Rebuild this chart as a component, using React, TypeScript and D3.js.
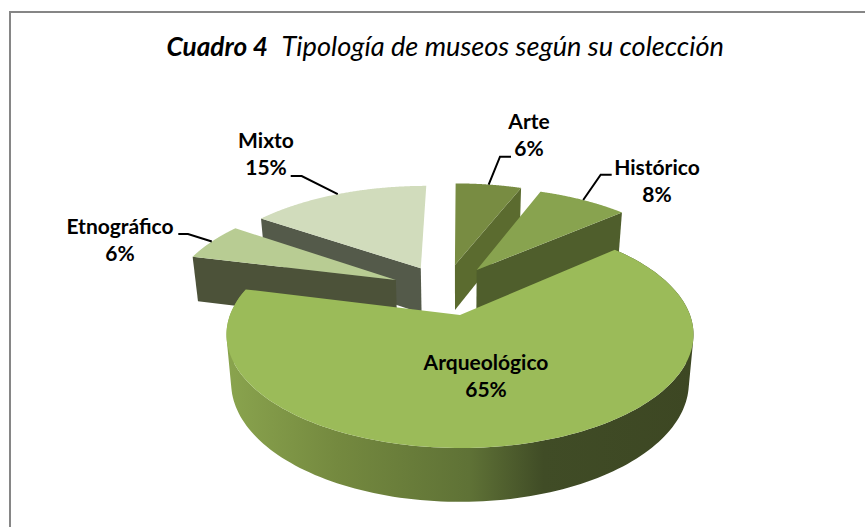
import React from "react";
import * as d3 from "d3";

const categories = ["Arte", "Histórico", "Arqueológico", "Etnográfico", "Mixto"];
const values = [5.7, 7.8, 65.4, 5.7, 15.4];
const percentLabels = ["6%", "8%", "65%", "6%", "15%"];
const topColors = ["#788c42", "#88a34f", "#9bbb59", "#b8cc93", "#d1dcbc"];
const wallColors = ["#5b6b2f", "#4f5e2c", "#4f5e2c", "#4c5239", "#545a4a"];
// plane offset of every exploded slice, in radii
const explodeU = [-0.024, 0.078, 0, -0.295, -0.184];
const explodeV = [0.493, 0.44, 0, 0.337, 0.458];
const radii = [1.015, 1.015, 1, 1.015, 1.015];
const drawOrder = [4, 0, 1, 3, 2];

const CX = 460, CY = 315, RX = 230, RY = 110, PERSP = 0.1729;
const pies = d3.pie<number>().sort(null).startAngle(0).endAngle(2 * Math.PI)(values);

type P = [number, number];
const top = (u: number, v: number): P => {
  const w = 1 + PERSP * v;
  return [CX + (RX * u) / w, CY - (RY * v) / w];
};
const bottom = (u: number, v: number): P => {
  const w = 1 + PERSP * v;
  const Y = v / w;
  return [CX + (0.98 * RX * u) / w, CY + 47.3 - (RY + 5.4) * Y];
};
const at = (i: number, a: number, r = radii[i]): [number, number] => [
  explodeU[i] + r * Math.sin(a),
  explodeV[i] + r * Math.cos(a),
];
const line = d3.line<P>().curve(d3.curveLinear);
const arcPts = (i: number, proj: (u: number, v: number) => P, a0: number, a1: number): P[] =>
  d3.range(0, 161).map((k) => {
    const [u, v] = at(i, a0 + ((a1 - a0) * k) / 160);
    return proj(u, v);
  });
const apex = (i: number, proj: (u: number, v: number) => P): P => proj(explodeU[i], explodeV[i]);

const labelX = [529, 657, 486, 120, 266];
const labelY = [129, 175, 370, 234, 148];
const elbows: P[] = [
  [500, 156.7],
  [600.7, 174.7],
  [0, 0],
  [188, 234],
  [301.7, 176],
];
const stubX = [511, 611.7, 0, 178.3, 290.7];

const ribbon = (t: P[], b: P[]): string =>
  t
    .slice(1)
    .map((pt, k) => {
      const quad: P[] = [t[k], pt, b[k + 1], b[k]];
      // every quad wound the same way, so the union has no cancelled holes
      const area = d3.polygonArea(quad);
      return line(area < 0 ? quad.slice().reverse() : quad)! + "Z";
    })
    .join("");

export default function App() {
  return (
    <svg
      width={865}
      height={527}
      style={{ position: "absolute", left: 0, top: 0, display: "block", background: "#fff" }}
      fontFamily="Lato, Carlito, sans-serif"
    >
      <defs>
        <linearGradient id="side" gradientUnits="userSpaceOnUse" x1={226} x2={693} y1={0} y2={0}>
          <stop offset="0" stopColor="#8aa44e" />
          <stop offset="0.24" stopColor="#74893f" />
          <stop offset="0.52" stopColor="#5f7236" />
          <stop offset="0.68" stopColor="#404c26" />
          <stop offset="1" stopColor="#3d4723" />
        </linearGradient>
      </defs>
      <path d="M10 527V12H865" fill="none" stroke="#868686" strokeWidth={2} />
      <text y={56} fontStyle="italic" fill="#000">
        <tspan x={166.5} fontSize={26.2} fontWeight={700}>Cuadro 4</tspan>
        <tspan x={281.5} fontSize={27.2}>Tipología de museos según su colección</tspan>
      </text>
      {drawOrder.map((i) => {
        const p = pies[i];
        const a0 = p.startAngle, a1 = p.endAngle;
        const isBig = i === 2;
        const outerTop = arcPts(i, top, a0, a1);
        const outerBot = arcPts(i, bottom, a0, a1);
        const cut = i < 2 ? a1 : a0;
        const [cu, cv] = at(i, cut);
        const wall: P[] = [apex(i, top), top(cu, cv), bottom(cu, cv), apex(i, bottom)];
        const face: P[] = [apex(i, top), ...outerTop];
        return (
          <g key={categories[i]}>
            {isBig ? (
              <path d={ribbon(outerTop, outerBot)} fill="url(#side)" />
            ) : (
              <path d={line(wall)! + "Z"} fill={wallColors[i]} />
            )}
            <path d={line(face)! + "Z"} fill={topColors[i]} />
          </g>
        );
      })}
      {categories.map((c, i) => {
        if (i === 2) return null;
        const mid = (pies[i].startAngle + pies[i].endAngle) / 2;
        const [u, v] = at(i, mid);
        const end = top(u, v);
        const pts: P[] = [[stubX[i], elbows[i][1]], elbows[i], end];
        return <path key={c} d={line(pts)!} fill="none" stroke="#000" strokeWidth={2} />;
      })}
      {categories.map((c, i) => (
        <text key={c} textAnchor="middle" fontSize={21} fontWeight={700} fill="#000">
          <tspan x={labelX[i]} y={labelY[i]}>{c}</tspan>
          <tspan x={labelX[i]} y={labelY[i] + 27}>{percentLabels[i]}</tspan>
        </text>
      ))}
    </svg>
  );
}
